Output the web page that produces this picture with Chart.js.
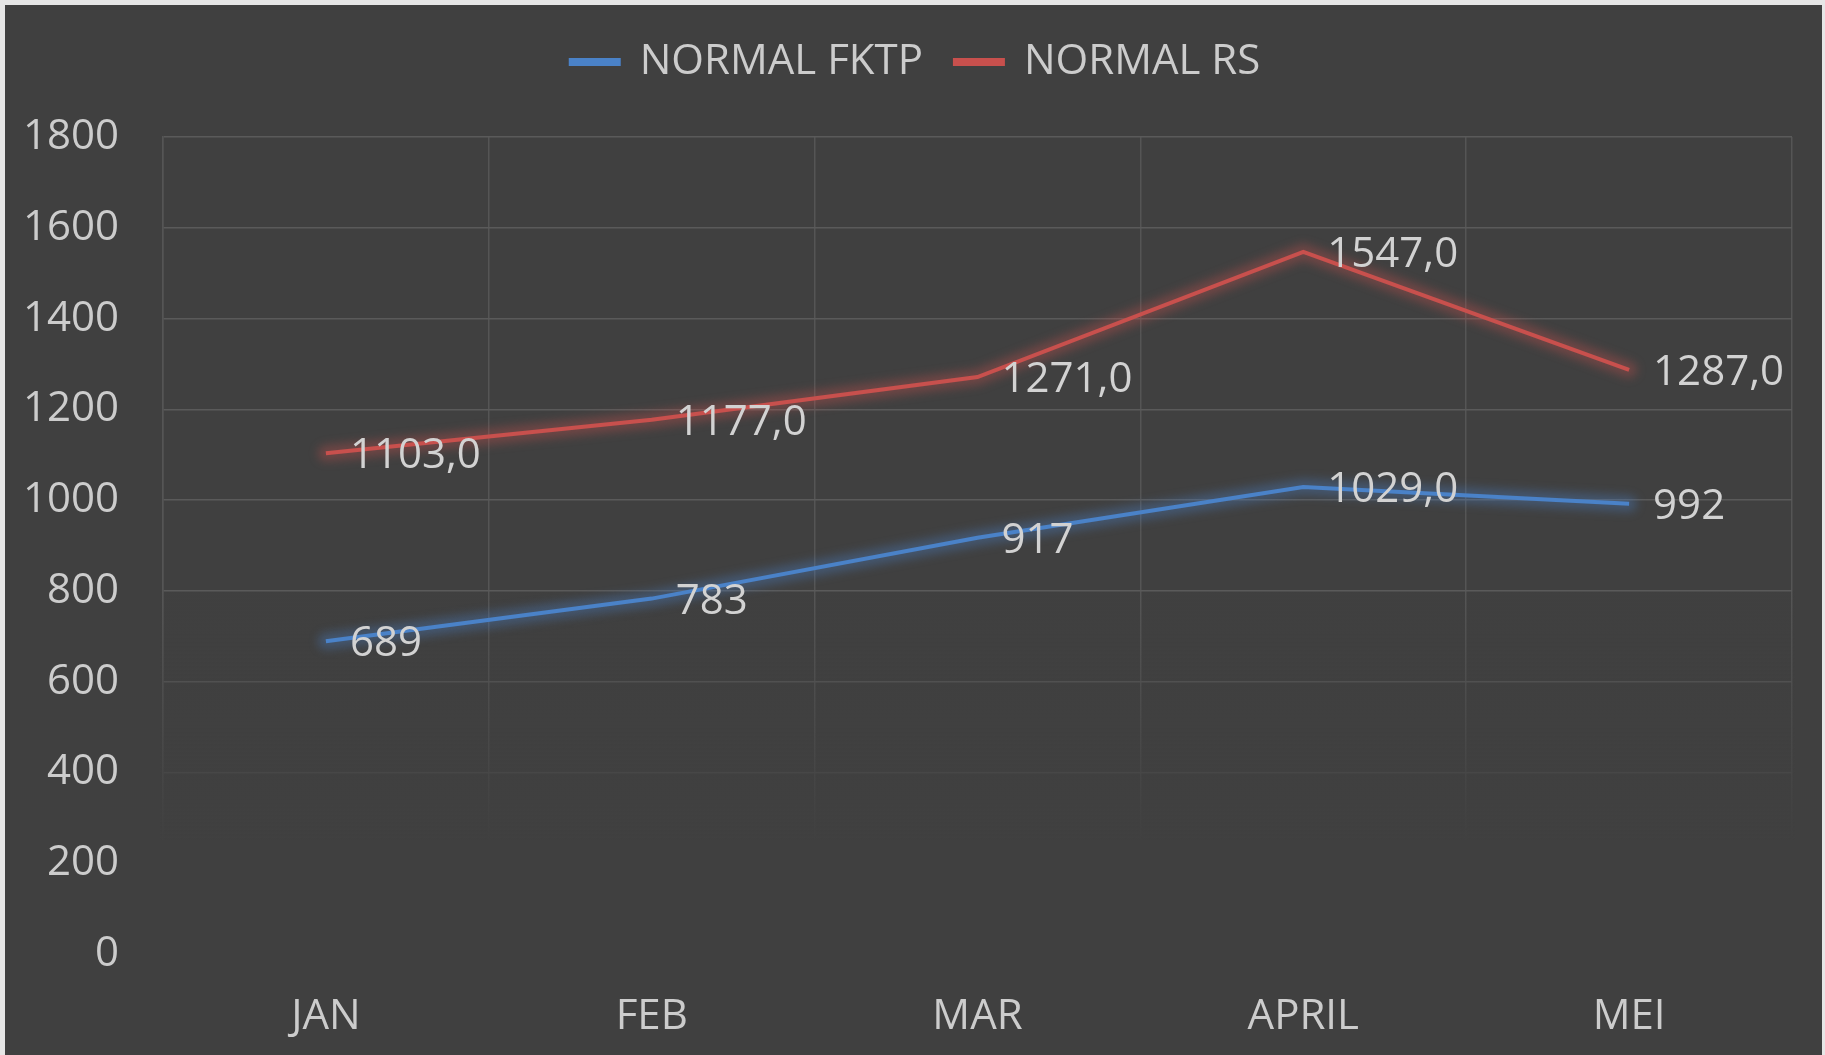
<!DOCTYPE html>
<html>
<head>
<meta charset="utf-8">
<title>NORMAL FKTP / NORMAL RS</title>
<script src="https://cdn.jsdelivr.net/npm/chart.js@4.4.1/dist/chart.umd.min.js"></script>
<style>
  html, body { margin: 0; padding: 0; background: #e6e6e6; }
  #wrap { position: absolute; left: 5px; top: 5px; width: 1817px; height: 1050px; background: #404040; }
</style>
</head>
<body>
<div id="wrap"><canvas id="myChart"></canvas></div>
<script>
// data
let months = ['JAN', 'FEB', 'MAR', 'APRIL', 'MEI'];
let fktpValues = [689, 783, 917, 1029, 992];
let rsValues = [1103, 1177, 1271, 1547, 1287];
// the labels are not formatted the same way in the original
let fktpLabels = ['689', '783', '917', '1029,0', '992'];
let rsLabels = ['1103,0', '1177,0', '1271,0', '1547,0', '1287,0'];
let yMin = 0;
let yMax = 1800;
let yStep = 200;

let textColor = '#cccccc';
let bgColor = '64, 64, 64';

Chart.defaults.font.family = "'Open Sans', 'DejaVu Sans', sans-serif";
Chart.defaults.font.size = 42;
Chart.defaults.color = textColor;

// soft glow under each line: a wide blurred stroke through the same points
const glowPlugin = {
  id: 'glow',
  beforeDatasetDraw(chart, args) {
    let ds = chart.data.datasets[args.index];
    let pts = args.meta.data;
    let ctx = chart.ctx;
    ctx.save();
    ctx.filter = 'blur(5px)';
    ctx.strokeStyle = ds.glowColor;
    ctx.lineWidth = 16;
    ctx.lineJoin = 'round';
    ctx.lineCap = 'round';
    ctx.beginPath();
    pts.forEach(function (pt, i) {
      if (i === 0) ctx.moveTo(pt.x, pt.y);
      else ctx.lineTo(pt.x, pt.y);
    });
    ctx.stroke();
    ctx.restore();
  }
};

// the grid fades out towards the bottom of the plot
const fadePlugin = {
  id: 'fade',
  beforeDatasetsDraw(chart) {
    let ctx = chart.ctx;
    let area = chart.chartArea;
    let top = chart.scales.y.getPixelForValue(800);
    let end = chart.scales.y.getPixelForValue(250);
    let grad = ctx.createLinearGradient(0, top, 0, end);
    grad.addColorStop(0, 'rgba(' + bgColor + ', 0)');
    grad.addColorStop(1, 'rgba(' + bgColor + ', 1)');
    ctx.save();
    ctx.fillStyle = grad;
    ctx.fillRect(area.left - 3, top, area.right - area.left + 6, area.bottom - top + 3);
    ctx.restore();
  }
};

// value labels to the right of each point
const labelPlugin = {
  id: 'valueLabels',
  afterDatasetsDraw(chart) {
    let ctx = chart.ctx;
    ctx.save();
    ctx.font = "42px 'Open Sans'";
    ctx.fillStyle = '#d2d2d2';
    ctx.textAlign = 'left';
    ctx.textBaseline = 'middle';
    chart.data.datasets.forEach(function (ds, i) {
      let meta = chart.getDatasetMeta(i);
      meta.data.forEach(function (pt, j) {
        ctx.fillText(ds.valueLabels[j], pt.x + 24, pt.y + 3);
      });
    });
    ctx.restore();
  }
};

// room below the legend, and nudge it to where the original sits
const legendSpace = {
  id: 'legendSpace',
  beforeInit(chart) {
    let legend = chart.legend;
    if (!legend) return;
    let fit = legend.fit;
    legend.fit = function () {
      fit.call(this);
      this.height = 128;
    };
    let draw = legend.draw;
    legend.draw = function () {
      let ctx = this.ctx;
      ctx.save();
      ctx.translate(12, 0);
      draw.apply(this, arguments);
      ctx.restore();
    };
  }
};

let canvasChart = document.getElementById('myChart');
let chart = new Chart(canvasChart, {
  type: 'line',
  data: {
    labels: months,
    datasets: [
      {
        label: 'NORMAL FKTP',
        data: fktpValues,
        valueLabels: fktpLabels,
        borderColor: '#4a82c8',
        backgroundColor: '#4a82c8',
        glowColor: 'rgba(74, 130, 200, 0.35)',
        borderWidth: 4,
        pointRadius: 0,
        tension: 0
      },
      {
        label: 'NORMAL RS',
        data: rsValues,
        valueLabels: rsLabels,
        borderColor: '#c8504d',
        backgroundColor: '#c8504d',
        glowColor: 'rgba(200, 80, 77, 0.35)',
        borderWidth: 4,
        pointRadius: 0,
        tension: 0
      }
    ]
  },
  options: {
    responsive: true,
    maintainAspectRatio: false,
    animation: false,
    layout: {
      padding: { left: 10, right: 30, top: 4, bottom: 15 }
    },
    plugins: {
      tooltip: { enabled: false },
      legend: {
        position: 'top',
        labels: {
          boxWidth: 48,
          boxHeight: 4,
          padding: 32,
          color: textColor,
          font: { size: 42 }
        }
      }
    },
    scales: {
      x: {
        offset: true,
        afterFit(scale) {
          scale.height = 86;
        },
        grid: {
          offset: true,
          color: '#555555',
          lineWidth: 1.5,
          drawTicks: false
        },
        border: { display: false },
        ticks: {
          padding: 38,
          color: textColor,
          font: { size: 42 }
        }
      },
      y: {
        min: yMin,
        max: yMax,
        afterFit(scale) {
          scale.width = 148;
        },
        grid: {
          color: '#5a5a5a',
          lineWidth: 1.5,
          drawTicks: false
        },
        border: { color: '#555555', width: 1.5 },
        ticks: {
          stepSize: yStep,
          padding: 44,
          color: textColor,
          font: { size: 42 },
          callback: function (value) {
            return String(value);
          }
        }
      }
    }
  },
  plugins: [legendSpace, glowPlugin, fadePlugin, labelPlugin]
});
</script>
</body>
</html>
